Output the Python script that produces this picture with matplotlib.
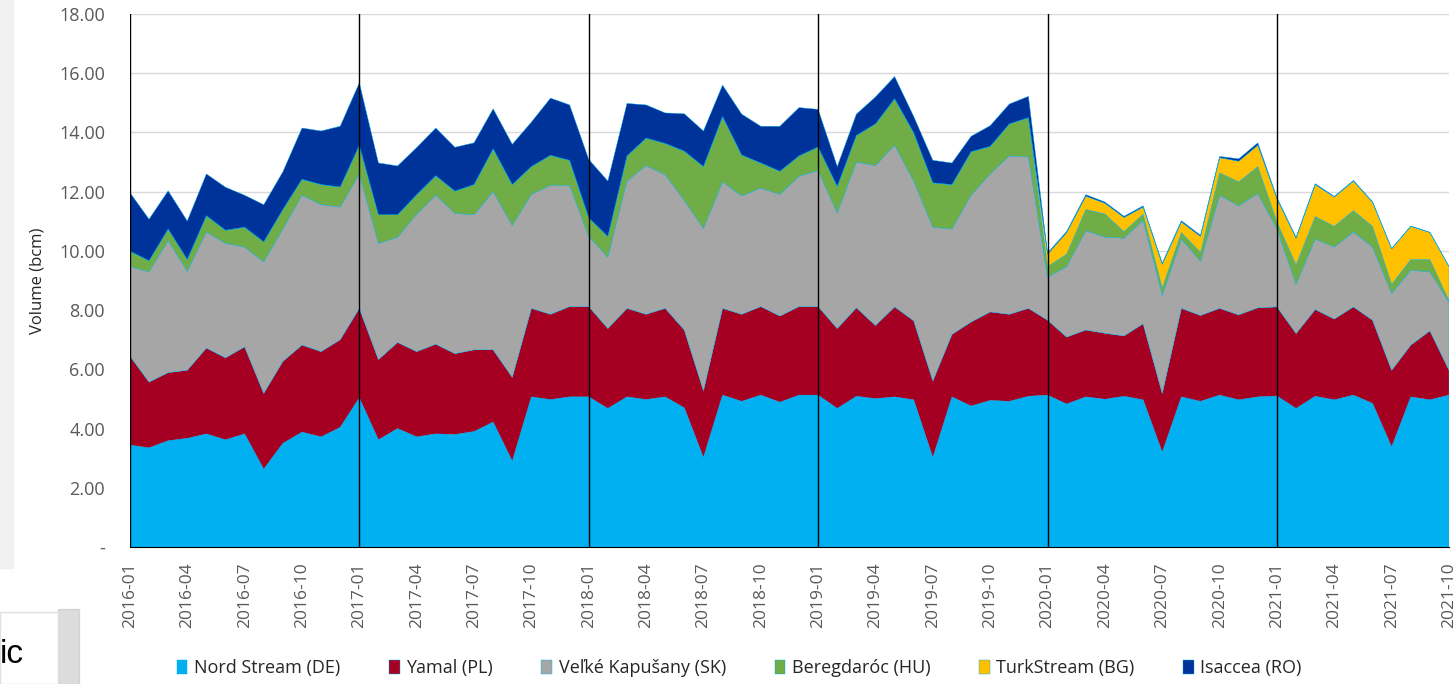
import matplotlib.pyplot as plt
import numpy as np
from matplotlib.patches import Rectangle

plt.rcParams['font.family'] = ['Open Sans', 'DejaVu Sans']

months = [f"{y}-{m:02d}" for y in range(2016, 2022) for m in range(1, 13)][:70]

nord_stream = [3.44, 3.35, 3.59, 3.67, 3.82, 3.62, 3.82, 2.63, 3.50, 3.88, 3.72, 4.04,
               5.04, 3.62, 4.00, 3.72, 3.82, 3.80, 3.90, 4.22, 2.90, 5.07, 4.98, 5.07,
               5.07, 4.68, 5.07, 4.98, 5.07, 4.70, 3.02, 5.13, 4.92, 5.13, 4.89, 5.13,
               5.13, 4.68, 5.09, 5.01, 5.07, 4.97, 3.02, 5.07, 4.76, 4.95, 4.92, 5.09,
               5.13, 4.83, 5.07, 4.99, 5.09, 4.97, 3.20, 5.07, 4.92, 5.13, 4.97, 5.07,
               5.10, 4.68, 5.09, 4.97, 5.13, 4.85, 3.38, 5.07, 4.97, 5.13]
yamal = [3.01, 2.22, 2.30, 2.30, 2.90, 2.77, 2.94, 2.56, 2.77, 2.94, 2.88, 2.96,
         3.02, 2.71, 2.91, 2.88, 3.03, 2.73, 2.76, 2.44, 2.83, 2.99, 2.88, 3.05,
         3.05, 2.70, 2.99, 2.88, 2.99, 2.63, 2.26, 2.93, 2.94, 2.99, 2.91, 2.99,
         2.99, 2.70, 2.99, 2.47, 3.04, 2.67, 2.59, 2.11, 2.84, 2.99, 2.94, 2.97,
         2.53, 2.26, 2.26, 2.23, 2.04, 2.57, 1.99, 2.99, 2.90, 2.93, 2.87, 3.01,
         3.01, 2.53, 2.93, 2.73, 2.98, 2.81, 2.59, 1.75, 2.33, 0.84]
velke_kapusany = [3.02, 3.72, 4.46, 3.34, 3.92, 3.86, 3.37, 4.44, 4.47, 5.06, 4.96, 4.48,
                  4.54, 3.92, 3.55, 4.64, 5.03, 4.74, 4.56, 5.34, 5.13, 3.85, 4.35, 4.09,
                  2.37, 2.41, 4.30, 5.02, 4.51, 4.37, 5.48, 4.27, 4.00, 4.00, 4.11, 4.40,
                  4.59, 3.90, 4.92, 5.40, 5.46, 4.72, 5.19, 3.56, 4.28, 4.66, 5.35, 5.11,
                  1.45, 2.38, 3.35, 3.25, 3.30, 3.50, 3.31, 2.34, 1.83, 3.82, 3.68, 3.86,
                  2.63, 1.66, 2.38, 2.43, 2.53, 2.47, 2.59, 2.53, 1.99, 2.29]
beregdaroc = [0.52, 0.38, 0.39, 0.40, 0.55, 0.45, 0.67, 0.68, 0.66, 0.54, 0.68, 0.68,
              0.97, 0.97, 0.76, 0.66, 0.66, 0.75, 1.02, 1.45, 1.38, 0.94, 1.02, 0.85,
              0.63, 0.70, 0.85, 0.93, 1.06, 1.67, 2.09, 2.21, 1.38, 0.85, 0.78, 0.69,
              0.80, 0.90, 0.90, 1.41, 1.57, 1.63, 1.50, 1.50, 1.47, 0.93, 1.08, 1.33,
              0.36, 0.42, 0.72, 0.78, 0.22, 0.20, 0.25, 0.22, 0.30, 0.76, 0.81, 0.91,
              0.24, 0.66, 0.76, 0.70, 0.72, 0.70, 0.31, 0.36, 0.42, 0.06]
turkstream = [0.0] * 48 + [0.42, 0.73, 0.45, 0.36, 0.48, 0.24, 0.80, 0.36, 0.54, 0.51, 0.70, 0.72,
                           0.78, 0.90, 1.08, 0.99, 1.00, 0.81, 1.20, 1.12, 0.91, 1.15]
isaccea = [1.98, 1.40, 1.29, 1.30, 1.41, 1.45, 1.08, 1.25, 1.27, 1.73, 1.81, 2.05,
           2.11, 1.75, 1.65, 1.59, 1.61, 1.48, 1.41, 1.35, 1.36, 1.50, 1.93, 1.87,
           1.97, 1.87, 1.77, 1.12, 1.03, 1.26, 1.20, 1.06, 1.38, 1.24, 1.52, 1.63,
           1.27, 0.67, 0.72, 0.91, 0.75, 0.55, 0.76, 0.73, 0.52, 0.70, 0.67, 0.72,
           0.04, 0.04, 0.05, 0.04, 0.04, 0.04, 0.04, 0.04, 0.04, 0.04, 0.08, 0.08,
           0.04, 0.03, 0.03, 0.02, 0.02, 0.02, 0.01, 0.01, 0.01, 0.00]

labels = ["Nord Stream (DE)", "Yamal (PL)", "Veľké Kapušany (SK)",
          "Beregdaróc (HU)", "TurkStream (BG)", "Isaccea (RO)"]
colors = ["#00B0F0", "#A50021", "#A6A6A6", "#70AD47", "#FFC000", "#003399"]

fig = plt.figure(figsize=(14.55, 6.84), dpi=100)
ax = fig.add_axes([0.0893, 0.2003, 0.9066, 0.7792])

x = np.arange(len(months))
ax.stackplot(x, nord_stream, yamal, velke_kapusany, beregdaroc, turkstream, isaccea,
             colors=colors, labels=labels, linewidth=0.3, edgecolors=colors, zorder=2)

ax.set_xlim(0, len(months) - 1)
ax.set_ylim(0, 18)
ax.set_yticks(np.arange(0, 19, 2))
ax.set_yticklabels(["-"] + [f"{v:.2f}" for v in range(2, 19, 2)])
ax.yaxis.grid(True, color="#D9D9D9", linewidth=1, zorder=0)
ax.set_axisbelow(True)

# year separators
for i in range(0, len(months), 12):
    ax.axvline(i, color="black", linewidth=1, zorder=3)

ax.set_xticks(x[::3])
ax.set_xticklabels(months[::3], rotation=90, color="#595959", fontsize=12.5)
ax.tick_params(axis="x", length=0, pad=11)
ax.set_xticks(x[::12], minor=True)
ax.tick_params(axis="x", which="minor", length=7, color="black")
ax.tick_params(axis="y", length=0, colors="#595959", labelsize=13, pad=18)

for s in ["top", "right", "left"]:
    ax.spines[s].set_visible(False)
ax.spines["bottom"].set_color("black")
ax.spines["bottom"].set_zorder(4)

ax.set_ylabel("Volume (bcm)", fontsize=12, color="#262626", labelpad=10)

fig.legend(loc="lower center", bbox_to_anchor=(0.508, -0.014), ncol=6, frameon=False,
           fontsize=13, handlelength=0.6, handleheight=0.75, handletextpad=0.35,
           columnspacing=2.7, labelcolor="#262626")

# leftover of neighbouring slide at the left edge
fig.patches.append(Rectangle((0, 0.17), 0.009, 0.83, transform=fig.transFigure,
                             color="#F0F0F0", zorder=0))
fig.patches.append(Rectangle((0.040, 0.0), 0.014, 0.11, transform=fig.transFigure,
                             color="#BBBBBB", alpha=0.5, zorder=0))
fig.patches.append(Rectangle((0, 0.0), 0.040, 0.105, transform=fig.transFigure,
                             facecolor="white", edgecolor="#E0E0E0", zorder=1))
fig.text(0.0, 0.03, "ic", fontsize=24, color="black", family=["Liberation Sans"])

fig.savefig("out.png", dpi=100)
